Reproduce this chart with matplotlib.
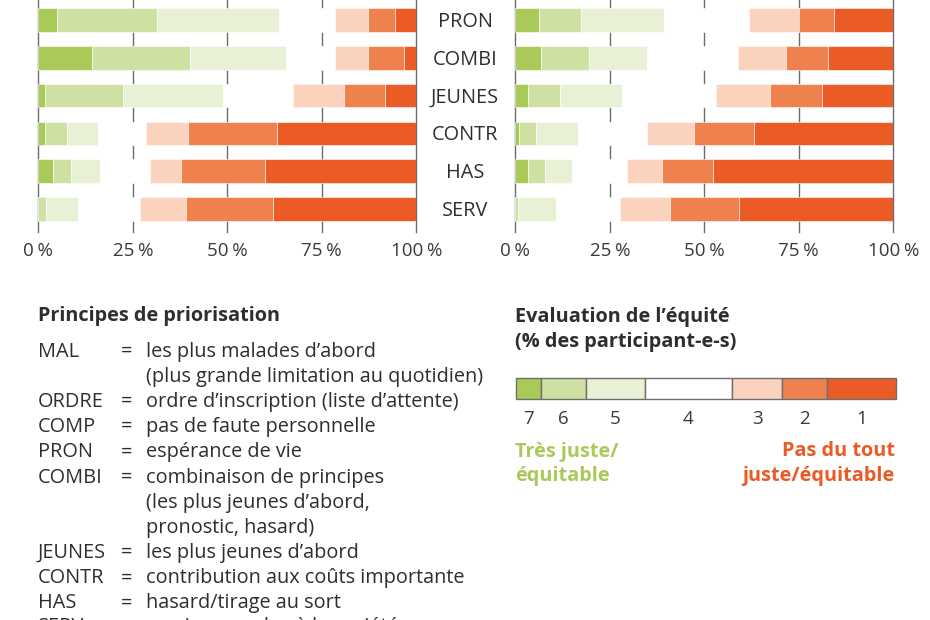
import matplotlib.pyplot as plt
import numpy as np

# --- données (% des participant-e-s par note) ---
categories = ["PRON", "COMBI", "JEUNES", "CONTR", "HAS", "SERV"]
notes = ["7", "6", "5", "4", "3", "2", "1"]

# panneau de gauche
gauche_7 = [5.0, 14.2, 1.7, 1.7, 4.0, 0.0]
gauche_6 = [26.5, 26.0, 20.6, 5.8, 4.6, 2.0]
gauche_5 = [32.1, 25.4, 26.5, 8.2, 7.6, 8.6]
gauche_4 = [14.9, 12.9, 18.5, 12.8, 13.4, 16.3]
gauche_3 = [8.6, 8.6, 13.7, 11.2, 8.1, 12.2]
gauche_2 = [7.3, 9.6, 10.8, 23.5, 22.4, 23.0]
gauche_1 = [5.6, 3.3, 8.2, 36.8, 39.9, 37.9]

# panneau de droite
droite_7 = [6.3, 6.8, 3.3, 1.1, 3.3, 0.0]
droite_6 = [11.2, 12.7, 8.6, 4.3, 4.5, 0.6]
droite_5 = [21.9, 15.3, 16.4, 11.1, 7.2, 10.2]
droite_4 = [22.4, 24.0, 24.8, 18.4, 14.5, 17.0]
droite_3 = [13.2, 12.7, 14.4, 12.3, 9.4, 13.2]
droite_2 = [9.4, 11.2, 13.6, 16.0, 13.4, 18.3]
droite_1 = [15.6, 17.3, 18.9, 36.8, 47.7, 40.7]

ticks = [0, 25, 50, 75, 100]
tick_labels = ["0\u202f%", "25\u202f%", "50\u202f%", "75\u202f%", "100\u202f%"]

abbrevs = ["MAL", "", "ORDRE", "COMP", "PRON", "COMBI", "", "",
           "JEUNES", "CONTR", "HAS", "SERV"]
definitions = [
    "les plus malades d\u2019abord",
    "(plus grande limitation au quotidien)",
    "ordre d\u2019inscription (liste d\u2019attente)",
    "pas de faute personnelle",
    "espérance de vie",
    "combinaison de principes",
    "(les plus jeunes d\u2019abord,",
    "pronostic, hasard)",
    "les plus jeunes d\u2019abord",
    "contribution aux coûts importante",
    "hasard/tirage au sort",
    "services rendus à la société",
]

colors = ["#a9ca59", "#cfe0a3", "#e8f1d5", "#ffffff", "#fad2bd", "#ef814e", "#ea5b26"]
GREEN_TXT = "#a9ca59"
ORANGE_TXT = "#ea5b26"
TXT = "#2e2e2e"
GRID = "#6c6c6c"
FS = 14.3      # texte courant
FS_TICK = 13.5

plt.rcParams['font.family'] = ['Open Sans', 'DejaVu Sans']

W, H = 930, 620
fig = plt.figure(figsize=(W / 100, H / 100), dpi=100)


def fx(px):
    return px / W


def fy(py):
    return 1 - py / H


def panel(x0, series):
    x1 = x0 + 378
    ax = fig.add_axes([fx(x0), fy(232), fx(x1) - fx(x0), 232 / H])
    y = np.arange(len(categories))
    for t in ticks:
        ax.axvline(t, color=GRID, lw=1.0, zorder=1, clip_on=False)
    left = np.zeros(len(categories))
    for vals, c in zip(series, colors):
        ax.barh(y, vals, left=left, height=0.627, color=c,
                edgecolor="white", linewidth=0.4, zorder=2)
        left += np.array(vals)
    ax.set_xlim(0, 100)
    ax.set_ylim(5.61, -0.53)
    for s in ax.spines.values():
        s.set_visible(False)
    ax.set_yticks([])
    ax.set_xticks(ticks)
    ax.set_xticklabels(tick_labels, fontsize=FS_TICK, color="#3a3a3a")
    ax.tick_params(axis="x", length=0, pad=7.5)
    return ax


ax_l = panel(38.3, [gauche_7, gauche_6, gauche_5, gauche_4, gauche_3, gauche_2, gauche_1])
ax_r = panel(515.3, [droite_7, droite_6, droite_5, droite_4, droite_3, droite_2, droite_1])

# libellés au centre
for i, cat in enumerate(categories):
    ax_l.text(112.9, i + 0.185, cat, ha="center", va="baseline", fontsize=FS,
              color=TXT, clip_on=False)

# légende des principes
fig.text(fx(38), fy(320.7), "Principes de priorisation", fontsize=FS,
         fontweight="bold", color=TXT, va="baseline")
for k, (ab, de) in enumerate(zip(abbrevs, definitions)):
    yb = 356.7 + 25.17 * k
    if k == len(abbrevs) - 1:
        yb -= 1.5  # dernière ligne coupée par le bord
    if ab:
        fig.text(fx(38), fy(yb), ab, fontsize=FS, color=TXT, va="baseline")
        fig.text(fx(121), fy(yb), "=", fontsize=FS, color=TXT, va="baseline")
    fig.text(fx(146), fy(yb), de, fontsize=FS, color=TXT, va="baseline")

# légende des couleurs
fig.text(fx(515), fy(322), "Evaluation de l\u2019équité", fontsize=FS,
         fontweight="bold", color=TXT, va="baseline")
fig.text(fx(515), fy(346.5), "(% des participant-e-s)", fontsize=FS,
         fontweight="bold", color=TXT, va="baseline")

seg_w = [25, 45.3, 58.7, 87.3, 50.3, 45, 68.4]
lx0 = 515.7
ax_leg = fig.add_axes([fx(lx0), fy(399.3), sum(seg_w) / W, 21.6 / H])
starts = np.concatenate([[0], np.cumsum(seg_w)[:-1]])
ax_leg.barh(0, seg_w, left=starts, height=1, color=colors,
            edgecolor="#6e6e6e", linewidth=1.0, clip_on=False)
ax_leg.set_xlim(0, sum(seg_w))
ax_leg.set_ylim(-0.5, 0.5)
ax_leg.axis("off")
for s, w, n in zip(starts, seg_w, notes):
    fig.text(fx(lx0 + s + w / 2), fy(424.3), n, ha="center", va="baseline",
             fontsize=FS_TICK, color="#3a3a3a")

fig.text(fx(515), fy(456.5), "Très juste/", fontsize=FS, fontweight="bold",
         color=GREEN_TXT, va="baseline")
fig.text(fx(515), fy(480.5), "équitable", fontsize=FS, fontweight="bold",
         color=GREEN_TXT, va="baseline")
fig.text(fx(895), fy(456.5), "Pas du tout", fontsize=FS, fontweight="bold",
         color=ORANGE_TXT, va="baseline", ha="right")
fig.text(fx(895), fy(480.5), "juste/équitable", fontsize=FS, fontweight="bold",
         color=ORANGE_TXT, va="baseline", ha="right")

fig.savefig("out.png", dpi=100)
